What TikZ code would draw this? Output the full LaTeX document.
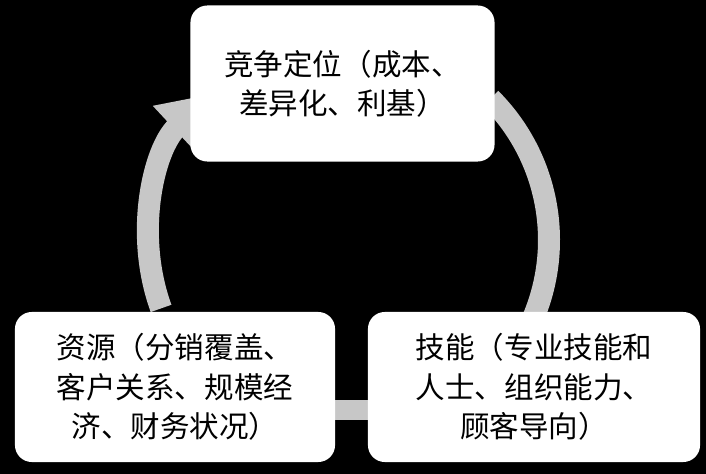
\documentclass[tikz,border=0pt]{standalone}
\usepackage{fontspec}
\newfontfamily\cjk{Noto Sans CJK SC}
\usetikzlibrary{arrows.meta,calc}
\begin{document}
\begin{tikzpicture}[
       x=0.025cm, y=0.025cm,
       kasten/.style={
         draw=none,
         fill=white,
         rounded corners=12pt,
         align=center,
         font=\cjk\fontsize{21}{28}\selectfont,
         inner sep=0pt
       },
       bogen/.style={
         line width=0.55cm,
         color=black!22
       }
     ]

       \fill[black] (0,0) rectangle (706,474);

       % arcs around the center
       \coordinate (m) at (349,234);
       \draw[bogen, -{Triangle[length=1.3cm,width=1.5cm]}]
         ($(m)+(200:200)$) arc (200:133:200);
       \draw[bogen] ($(m)+(45:200)$) arc (45:-25:200);
       \fill[black!22] (330,54) rectangle (372,74);

       \node (ziel) at (342.5,390.5) [kasten, minimum width=7.6cm, minimum height=3.9cm]
         {竞争定位（成本、\\差异化、利基）};
       \node (quelle) at (175,87) [kasten, minimum width=8cm, minimum height=3.75cm]
         {资源（分销覆盖、\\客户关系、规模经\\济、财务状况）};
       \node (faehig) at (534,87) [kasten, minimum width=8.3cm, minimum height=3.75cm]
         {技能（专业技能和\\人士、组织能力、\\顾客导向）};

\end{tikzpicture}
\end{document}
